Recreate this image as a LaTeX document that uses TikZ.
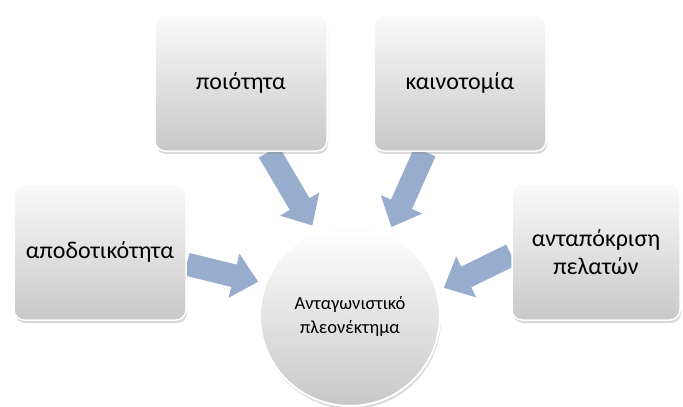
\documentclass[tikz,border=0pt]{standalone}
\usepackage{fontspec}
\setmainfont{Carlito}
\usepackage{xcolor}
\usetikzlibrary{shadows,arrows.meta}

\definecolor{arrowblue}{RGB}{152,172,206}
\definecolor{boxtop}{RGB}{250,250,250}
\definecolor{boxbottom}{RGB}{200,200,200}

\pgfdeclarelayer{bg}
\pgfsetlayers{bg,main}

\tikzset{
  factorbox/.style={rectangle, rounded corners=10pt, minimum width=172pt, minimum height=136pt,
    top color=boxtop, bottom color=boxbottom, draw=white, line width=1.5pt,
    drop shadow={opacity=0.3, shadow xshift=1pt, shadow yshift=-3pt},
    font=\fontsize{24}{28}\selectfont, align=center},
  goalcircle/.style={circle, minimum size=180pt, top color=white, bottom color=boxbottom,
    draw=white, line width=2pt,
    drop shadow={opacity=0.3, shadow xshift=1pt, shadow yshift=-3pt},
    font=\fontsize{18.5}{24}\selectfont, align=center},
  pusharrow/.style={line width=23pt, draw=arrowblue, -{Triangle[width=44pt,length=25pt]}, shorten >=7pt}
}

\begin{document}
\begin{tikzpicture}[x=1pt,y=-1pt]
\useasboundingbox (0,0) rectangle (683,407);

\node[factorbox] (apod) at (100,252) {αποδοτικότητα};
\node[factorbox] (poiot) at (241,83) {ποιότητα};
\node[factorbox] (kainot) at (460,83) {καινοτομία};
\node[factorbox, minimum width=168pt] (antap) at (596,252) {ανταπόκριση\\πελατών};

\node[goalcircle] (antag) at (350,316) {Ανταγωνιστικό\\πλεονέκτημα};

% arrows behind the boxes
\begin{pgfonlayer}{bg}
\draw[pusharrow] (apod.-8) -- (antag.159);
\draw[pusharrow] (poiot.-68) -- (antag.112);
\draw[pusharrow] (kainot.-117) -- (antag.65);
\draw[pusharrow] (antap.182) -- (antag.16);
\end{pgfonlayer}
\end{tikzpicture}
\end{document}
